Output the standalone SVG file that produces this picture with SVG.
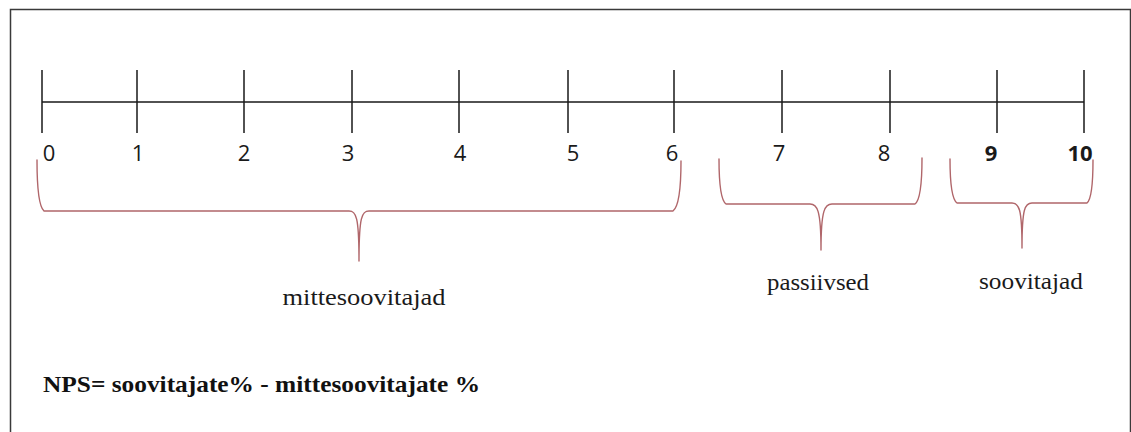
<svg xmlns="http://www.w3.org/2000/svg" width="1131" height="432" viewBox="0 0 1131 432">
  <style>
    .frame { fill: none; stroke: #3a3a3a; stroke-width: 1.5; }
    .axis { fill: none; stroke: #1a1a1a; stroke-width: 1.5; }
    .brace { fill: none; stroke: #b0666a; stroke-width: 1.4; stroke-linecap: round; stroke-linejoin: round; }
    .num { font-family: "Open Sans", "Liberation Sans", sans-serif; font-size: 22px; fill: #1a1a1a; text-anchor: middle; }
    .num.b { font-weight: bold; }
    .cat { font-family: "Liberation Serif", "Times New Roman", serif; font-size: 24px; fill: #1a1a1a; text-anchor: middle; }
    .formula { font-family: "Liberation Serif", "Times New Roman", serif; font-size: 24px; font-weight: bold; fill: #111; }
  </style>
  <rect width="1131" height="432" fill="#ffffff"/>
  <path class="frame" d="M10.5,432 V9.5 H1130.5 V432"/>

  <!-- scale 0..10 -->
  <g id="scale">
    <path class="axis" d="M42,102 H1084
      M42,70 V133 M137,70 V133 M244,70 V133 M352,70 V133 M459,70 V133 M568,70 V133
      M674,70 V133 M782,70 V133 M890,70 V133 M997,70 V133 M1084,70 V133"/>
    <text class="num" x="49" y="161">0</text>
    <text class="num" x="138" y="161">1</text>
    <text class="num" x="244" y="161">2</text>
    <text class="num" x="348" y="161">3</text>
    <text class="num" x="460" y="161">4</text>
    <text class="num" x="573" y="161">5</text>
    <text class="num" x="672" y="161">6</text>
    <text class="num" x="779" y="161">7</text>
    <text class="num" x="884" y="161">8</text>
    <text class="num b" x="991" y="161">9</text>
    <text class="num b" x="1080" y="161">10</text>
  </g>

  <!-- grouping braces -->
  <g id="braces">
    <path class="brace" d="M37,160 Q37,205 44,211 H349 C356,211 359,216 359,261 C359,216 362,211 369,211 H673 Q681,205 681,161"/>
    <path class="brace" d="M719,159 Q719,199 726,204 H810 C817,204 821,209 821,250 C821,209 825,204 832,204 H915 Q922,199 922,158"/>
    <path class="brace" d="M950,159 Q950,198 957,203 H1012 C1019,203 1022,208 1022,248 C1022,208 1025,203 1032,203 H1087 Q1093,198 1093,160"/>
  </g>

  <g id="mittesoovitajad">
    <text class="cat" x="364" y="305" textLength="163" lengthAdjust="spacingAndGlyphs">mittesoovitajad</text>
  </g>
  <g id="passiivsed">
    <text class="cat" x="818" y="290" textLength="102" lengthAdjust="spacingAndGlyphs">passiivsed</text>
  </g>
  <g id="soovitajad">
    <text class="cat" x="1031" y="289" textLength="104" lengthAdjust="spacingAndGlyphs">soovitajad</text>
  </g>

  <g id="formula">
    <text class="formula" x="43" y="392" textLength="437" lengthAdjust="spacingAndGlyphs">NPS= soovitajate% - mittesoovitajate %</text>
  </g>
</svg>
